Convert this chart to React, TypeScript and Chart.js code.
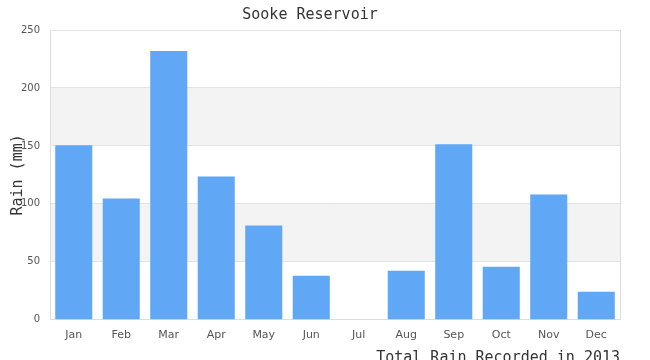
import React, { useEffect, useRef } from 'react';
import { Chart, registerables } from 'chart.js';

Chart.register(...registerables);

const months = ['Jan', 'Feb', 'Mar', 'Apr', 'May', 'Jun', 'Jul', 'Aug', 'Sep', 'Oct', 'Nov', 'Dec'];
const rainfall = [150.6, 104.7, 231.8, 123.7, 81.3, 38.1, 0, 42.4, 151.4, 45.8, 108.1, 24.2];
const yMin = 0;
const yMax = 250;
const yStep = 50;
const chartTitle = 'Sooke Reservoir';
const xTitle = 'Total Rain Recorded in 2013';
const yTitle = 'Rain (mm)';

const bandsPlugin = {
  id: 'bands',
  beforeDraw(chart: any) {
    const { ctx, chartArea } = chart;
    const y = chart.scales.y;
    ctx.save();
    ctx.fillStyle = '#f3f3f3';
    for (let v = yMin; v < yMax; v += yStep) {
      if ((v / yStep) % 2 === 1) {
        const top = y.getPixelForValue(v + yStep);
        const bottom = y.getPixelForValue(v);
        ctx.fillRect(chartArea.left, top, chartArea.right - chartArea.left, bottom - top);
      }
    }
    ctx.restore();
  },
  afterDraw(chart: any) {
    const { ctx, chartArea } = chart;
    ctx.save();
    ctx.strokeStyle = '#dddddd';
    ctx.lineWidth = 1;
    ctx.beginPath();
    const x = Math.round(chartArea.right) + 0.5;
    ctx.moveTo(x, chartArea.top);
    ctx.lineTo(x, chartArea.bottom);
    ctx.stroke();
    ctx.restore();
  },
};

export default function App() {
  const ref = useRef<HTMLCanvasElement | null>(null);
  useEffect(() => {
    document.body.style.margin = '0';
    document.body.style.overflow = 'hidden';
    const canvas = ref.current!;
    const chart = new Chart(canvas, {
      type: 'bar',
      data: {
        labels: months,
        datasets: [
          {
            data: rainfall,
            backgroundColor: '#60a8f5',
            borderWidth: 0,
            barPercentage: 0.78,
            categoryPercentage: 1,
          },
        ],
      },
      options: {
        animation: false,
        responsive: false,
        layout: { padding: { left: 0, right: 30, top: 0, bottom: 0 } },
        plugins: {
          legend: { display: false },
          tooltip: { enabled: false },
          title: {
            display: true,
            text: chartTitle,
            color: '#333333',
            font: { family: 'DejaVu Sans Mono', size: 15, weight: 'normal' },
            padding: { top: 6, bottom: 6 },
          },
        },
        scales: {
          x: {
            grid: { display: false, drawTicks: false },
            border: { color: '#dddddd' },
            ticks: {
              color: '#555555',
              font: { family: 'DejaVu Sans', size: 11 },
              padding: 9,
              maxRotation: 0,
            },
            title: {
              display: true,
              text: xTitle,
              align: 'end',
              color: '#333333',
              font: { family: 'DejaVu Sans Mono', size: 15, lineHeight: 1 },
              padding: { top: 0, bottom: 0 },
            },
          },
          y: {
            min: yMin,
            max: yMax,
            ticks: {
              stepSize: yStep,
              color: '#555555',
              font: { family: 'DejaVu Sans', size: 10 },
              padding: 10,
            },
            grid: { color: '#e3e3e3', drawTicks: false },
            border: { color: '#dddddd' },
            title: {
              display: true,
              text: yTitle,
              color: '#333333',
              font: { family: 'DejaVu Sans Mono', size: 15 },
              padding: { top: 9, bottom: 0 },
            },
            afterFit: (scale: any) => {
              scale.width = 50;
            },
          },
        },
      },
      plugins: [bandsPlugin],
    });
    return () => chart.destroy();
  }, []);
  return <canvas ref={ref} width={650} height={366} style={{ display: 'block' }} />;
}
